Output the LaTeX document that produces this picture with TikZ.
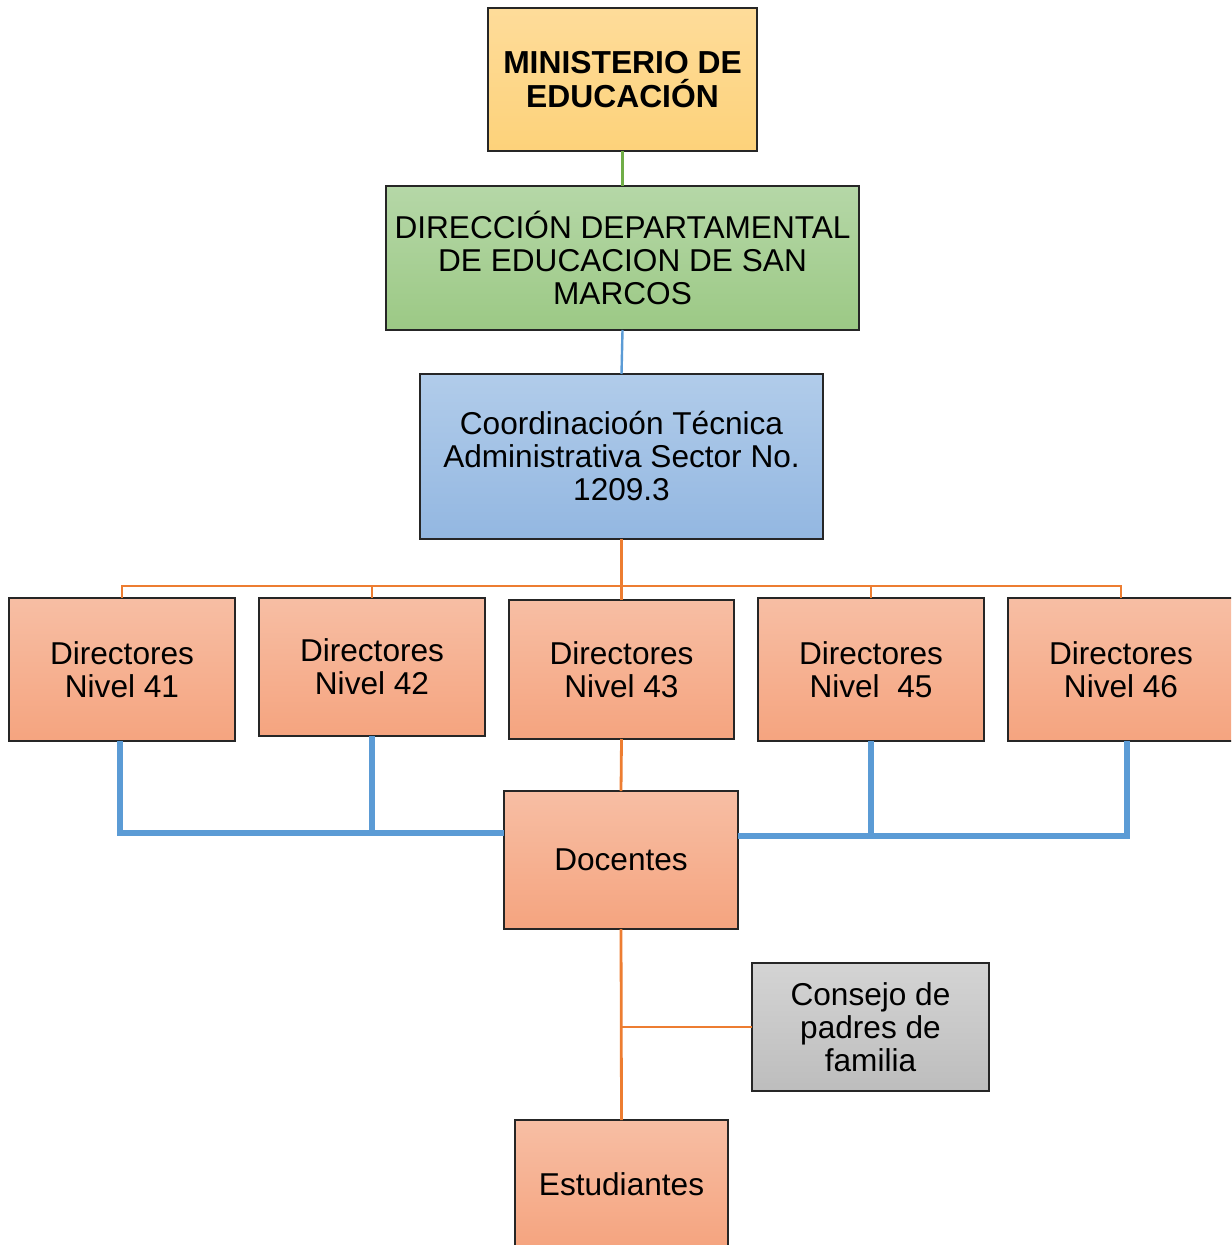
\documentclass[tikz,border=0pt]{standalone}
\usepackage{fontspec}
\setmainfont{Liberation Sans}
\definecolor{mintop}{HTML}{FEDC9A}
\definecolor{minbot}{HTML}{FDD27A}
\definecolor{dirtop}{HTML}{B5D7A7}
\definecolor{dirbot}{HTML}{9CC985}
\definecolor{cootop}{HTML}{B1CCEA}
\definecolor{coobot}{HTML}{93B7E1}
\definecolor{nivtop}{HTML}{F7BEA4}
\definecolor{nivbot}{HTML}{F5A47F}
\definecolor{gristop}{HTML}{D4D4D4}
\definecolor{grisbot}{HTML}{BDBDBD}
\definecolor{lineorange}{HTML}{ED7D31}
\definecolor{lineblue}{HTML}{5B9BD5}
\definecolor{linegreen}{HTML}{70AD47}
\definecolor{borde}{HTML}{262626}
\tikzset{
  caja/.style={draw=borde, line width=0.6pt, inner sep=0pt, outer sep=0pt,
    align=center, font=\fontsize{15.8}{16.5}\selectfont},
  nivel/.style={caja, top color=nivtop, bottom color=nivbot,
    minimum width=113pt, minimum height=71.5pt},
  lineaorange/.style={draw=lineorange, line width=1.4pt},
  lineabus/.style={draw=lineblue, line width=2.8pt},
}
\begin{document}
\begin{tikzpicture}[x=0.5pt,y=-0.5pt]
  \path[use as bounding box, clip] (0,0) rectangle (1231,1245);
  % top of the chart
  \node[caja, top color=mintop, bottom color=minbot, minimum width=134.5pt,
    minimum height=71.5pt, font=\fontsize{15.9}{16.8}\selectfont\bfseries]
    (min) at (622.5,79.5) {MINISTERIO DE\\EDUCACIÓN};
  \node[caja, top color=dirtop, bottom color=dirbot, minimum width=236.5pt,
    minimum height=72pt] (dir) at (622.5,258)
    {DIRECCIÓN DEPARTAMENTAL\\DE EDUCACION DE SAN\\MARCOS};
  \node[caja, top color=cootop, bottom color=coobot, minimum width=201.5pt,
    minimum height=82.5pt] (coo) at (621.5,456.5)
    {Coordinacioón Técnica\\Administrativa Sector No.\\1209.3};
  % directores
  \node[nivel] (n41) at (122,669.5) {Directores\\Nivel 41};
  \node[nivel, minimum height=69pt] (n42) at (372,667) {Directores\\Nivel 42};
  \node[nivel, minimum width=112.5pt, minimum height=69.5pt] (n43) at (621.5,669.5) {Directores\\Nivel 43};
  \node[nivel] (n45) at (871,669.5) {Directores\\Nivel\ \ 45};
  \node[nivel] (n46) at (1121,669.5) {Directores\\Nivel 46};
  % docentes and below
  \node[nivel, minimum width=117pt, minimum height=69pt] (doc) at (621,860) {Docentes};
  \node[caja, top color=gristop, bottom color=grisbot, minimum width=118.5pt,
    minimum height=64pt] (cons) at (870.5,1027) {Consejo de\\padres de\\familia};
  \node[nivel, minimum width=106.5pt, minimum height=64pt] (est) at (621.5,1184) {Estudiantes};

  \coordinate (bus) at (622,586);
  \coordinate (jl) at (504,833);
  \coordinate (jr) at (738,836);

  \draw[draw=linegreen, line width=1.2pt] (min.south) -- (dir.north);
  \draw[draw=lineblue, line width=1.2pt] (dir.south) -- (coo.north);
  \draw[lineaorange] (coo.south) -- (n43.north);
  \draw[lineaorange] (n41.north) |- (bus);
  \draw[lineaorange] (n42.north) |- (bus);
  \draw[lineaorange] (n45.north) |- (bus);
  \draw[lineaorange] (n46.north) |- (bus);
  \draw[lineaorange] (n43.south) -- (doc.north);
  \draw[lineaorange] (doc.south) -- (est.north);
  \draw[lineaorange] (cons.west) -- (cons.west -| doc.south);

  \draw[lineabus] ([xshift=-1pt]n41.south) |- (jl);
  \draw[lineabus] (n42.south) |- (jl);
  \draw[lineabus] (n45.south) |- (jr);
  \draw[lineabus] ([xshift=3pt]n46.south) |- (jr);
\end{tikzpicture}
\end{document}
